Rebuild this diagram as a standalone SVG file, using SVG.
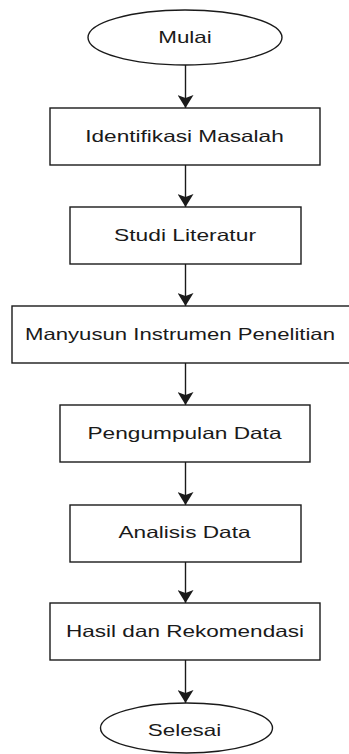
<svg xmlns="http://www.w3.org/2000/svg" width="349" height="754" viewBox="0 0 349 754">
  <style>
    .shape { fill: #ffffff; stroke: #1a1a1a; stroke-width: 1.4; }
    .label { font-family: "Liberation Sans", Arial, sans-serif; font-size: 16.5px; fill: #1a1a1a; text-anchor: middle; }
    .conn { stroke: #1a1a1a; stroke-width: 1.4; fill: none; marker-end: url(#ah); }
  </style>
  <defs>
    <marker id="ah" viewBox="0 0 13 16" refX="13" refY="8" markerWidth="13" markerHeight="16" orient="auto" markerUnits="userSpaceOnUse">
      <path d="M0,0 L13,8 L0,16 L3,8 Z" fill="#1a1a1a"/>
    </marker>
  </defs>
  <rect width="349" height="754" fill="#ffffff"/>

  <g id="connectors">
    <line class="conn" x1="185.5" y1="65" x2="185.5" y2="108"/>
    <line class="conn" x1="185.5" y1="165" x2="185.5" y2="207"/>
    <line class="conn" x1="185.5" y1="264" x2="185.5" y2="306"/>
    <line class="conn" x1="185.5" y1="363" x2="185.5" y2="405"/>
    <line class="conn" x1="185.5" y1="462" x2="185.5" y2="505"/>
    <line class="conn" x1="185.5" y1="562" x2="185.5" y2="603"/>
    <line class="conn" x1="185.5" y1="660" x2="185.5" y2="703"/>
  </g>

  <g id="mulai">
    <ellipse class="shape" cx="185" cy="37.5" rx="97" ry="27.5"/>
    <text class="label" x="185" y="43" textLength="53.5" lengthAdjust="spacingAndGlyphs">Mulai</text>
  </g>
  <g id="identifikasi">
    <rect class="shape" x="50" y="108" width="270" height="57"/>
    <text class="label" x="184.5" y="142" textLength="198.5" lengthAdjust="spacingAndGlyphs">Identifikasi Masalah</text>
  </g>
  <g id="studi">
    <rect class="shape" x="70" y="207" width="231" height="57"/>
    <text class="label" x="185" y="240.5" textLength="142" lengthAdjust="spacingAndGlyphs">Studi Literatur</text>
  </g>
  <g id="instrumen">
    <rect class="shape" x="12" y="306" width="346" height="57"/>
    <text class="label" x="180" y="340" textLength="310" lengthAdjust="spacingAndGlyphs">Manyusun Instrumen Penelitian</text>
  </g>
  <g id="pengumpulan">
    <rect class="shape" x="60" y="405" width="250" height="57"/>
    <text class="label" x="184.5" y="438.5" textLength="194" lengthAdjust="spacingAndGlyphs">Pengumpulan Data</text>
  </g>
  <g id="analisis">
    <rect class="shape" x="70" y="505" width="231" height="57"/>
    <text class="label" x="184.5" y="537.5" textLength="132" lengthAdjust="spacingAndGlyphs">Analisis Data</text>
  </g>
  <g id="hasil">
    <rect class="shape" x="50" y="603" width="270" height="57"/>
    <text class="label" x="185" y="636.5" textLength="238" lengthAdjust="spacingAndGlyphs">Hasil dan Rekomendasi</text>
  </g>
  <g id="selesai">
    <ellipse class="shape" cx="186.5" cy="728" rx="86" ry="25"/>
    <text class="label" x="184.5" y="736" textLength="73.5" lengthAdjust="spacingAndGlyphs">Selesai</text>
  </g>
</svg>
